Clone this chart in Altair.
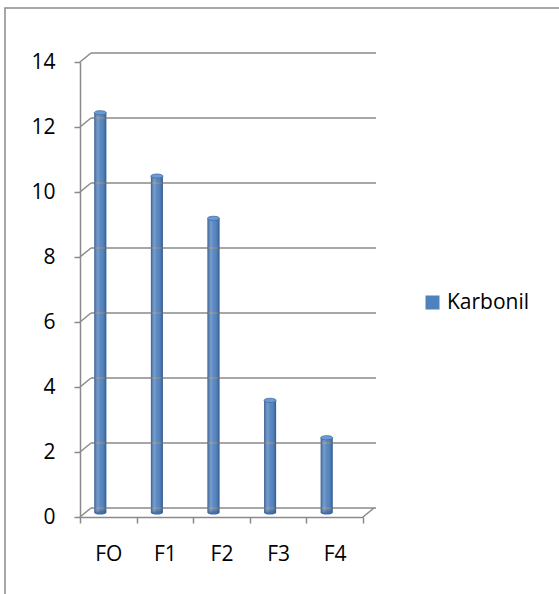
import altair as alt
import pandas as pd

# ---------------- data ----------------
categories = ["FO", "F1", "F2", "F3", "F4"]
values = [12.3, 10.35, 9.05, 3.45, 2.3]
series_name = "Karbonil"
y_ticks = [0, 2, 4, 6, 8, 10, 12, 14]

# ---------------- style ----------------
BLUE = "#4F81BD"
GRID = "#8a8a8a"
FONT = "Open Sans"
FS = 21
W, H = 283, 455
DX, DY = 11, -9          # 3-D depth offset of the back wall
BAR_W = 12
BAR_DX = -8
BAR_DY = -4.5
ELLIPSE = "M-1,0A1,0.35,0,1,1,1,0A1,0.35,0,1,1,-1,0Z"

bars_df = pd.DataFrame({"Kategori": categories, "Nilai": values,
                        "Seri": [series_name] * len(categories)})
grid_df = pd.DataFrame({"Nilai": y_ticks})
one_df = pd.DataFrame({"Nilai": [0]})

yscale = alt.Scale(domain=[0, 14], nice=False, zero=True)
xscale = alt.Scale(paddingInner=0, paddingOuter=0)
xaxis = alt.Axis(title=None, labelAngle=0, tickBand="extent", zindex=1,
                 tickSize=6, tickColor=GRID, tickWidth=1.5,
                 domainColor=GRID, domainWidth=1.5,
                 labelFont=FONT, labelFontSize=FS, labelColor="black",
                 labelBaseline="alphabetic", labelPadding=37)
yaxis = alt.Axis(title=None, values=y_ticks, tickSize=6, tickColor=GRID,
                 tickWidth=1.5, domainColor=GRID, domainWidth=1.5, zindex=1,
                 grid=False, labelFont=FONT, labelFontSize=FS,
                 labelColor="black", labelPadding=19)

xenc = alt.X("Kategori:N", sort=categories, scale=xscale, axis=xaxis)
yenc = alt.Y("Nilai:Q", scale=yscale, axis=yaxis)

frame = alt.Chart(one_df).mark_rect(fillOpacity=0, stroke=GRID, strokeWidth=1.5).encode(
    x=alt.value(-75), x2=alt.value(520), y=alt.value(-54), y2=alt.value(580))

# back gridlines
grid = alt.Chart(grid_df).mark_rule(color=GRID, strokeWidth=1.5, yOffset=DY).encode(
    y=yenc, x=alt.value(DX), x2=alt.value(W + DX + 2))

# diagonals from front axis to the back wall
diag = alt.Chart(grid_df).mark_rule(color=GRID, strokeWidth=1.5, y2Offset=DY).encode(
    y=yenc, y2=alt.Y2("Nilai:Q"), x=alt.value(0), x2=alt.value(DX))
diag_r = alt.Chart(one_df).mark_rule(color=GRID, strokeWidth=1.5, y2Offset=DY).encode(
    y=yenc, y2=alt.Y2("Nilai:Q"), x=alt.value(W), x2=alt.value(W + DX))

bottom = alt.Chart(bars_df).mark_point(shape=ELLIPSE, filled=True, size=BAR_W ** 2,
                                       xOffset=BAR_DX, yOffset=BAR_DY, fill="#3f6ca6",
                                       opacity=1, strokeWidth=0).encode(
    x=xenc, y=alt.YDatum(0, scale=yscale, axis=yaxis))

base = alt.Chart(bars_df).mark_bar(size=BAR_W, xOffset=BAR_DX, yOffset=BAR_DY,
                                   y2Offset=BAR_DY).encode(
    x=xenc, y=yenc,
    color=alt.Color("Seri:N", scale=alt.Scale(domain=[series_name], range=[BLUE]),
                    legend=alt.Legend(title=None, orient="none", legendX=342, legendY=230,
                                      symbolType="square", symbolSize=196,
                                      symbolStrokeWidth=0, labelFont=FONT,
                                      labelFontSize=FS, labelColor="black",
                                      labelOffset=4, padding=0)))

shade = alt.Chart(bars_df).mark_bar(
    size=BAR_W, xOffset=BAR_DX, yOffset=BAR_DY, y2Offset=BAR_DY,
    color=alt.Gradient(gradient="linear", x1=0, x2=1, y1=0, y2=0,
                       stops=[alt.GradientStop(offset=0, color="rgba(20,40,80,0.45)"),
                              alt.GradientStop(offset=0.3, color="rgba(255,255,255,0.2)"),
                              alt.GradientStop(offset=0.55, color="rgba(255,255,255,0.05)"),
                              alt.GradientStop(offset=0.85, color="rgba(20,40,80,0.15)"),
                              alt.GradientStop(offset=1, color="rgba(20,40,80,0.45)")])
).encode(x=xenc, y=yenc)

top = alt.Chart(bars_df).mark_point(shape=ELLIPSE, filled=True, size=BAR_W ** 2,
                                    xOffset=BAR_DX, yOffset=BAR_DY, fill="#6c9ad6",
                                    stroke="#3d69a2", strokeWidth=0.8, opacity=1).encode(
    x=xenc, y=yenc)

chart = alt.layer(base, frame, grid, diag, diag_r, bottom, shade, top).properties(
    width=W, height=H,
    autosize=alt.AutoSizeParams(type="none"),
    padding={"left": 80, "top": 62, "right": 559 - 80 - W, "bottom": 594 - 62 - H},
    background="white",
).configure_view(stroke=None)

chart.save("out.html", embed_options={"renderer": "svg", "actions": False})
